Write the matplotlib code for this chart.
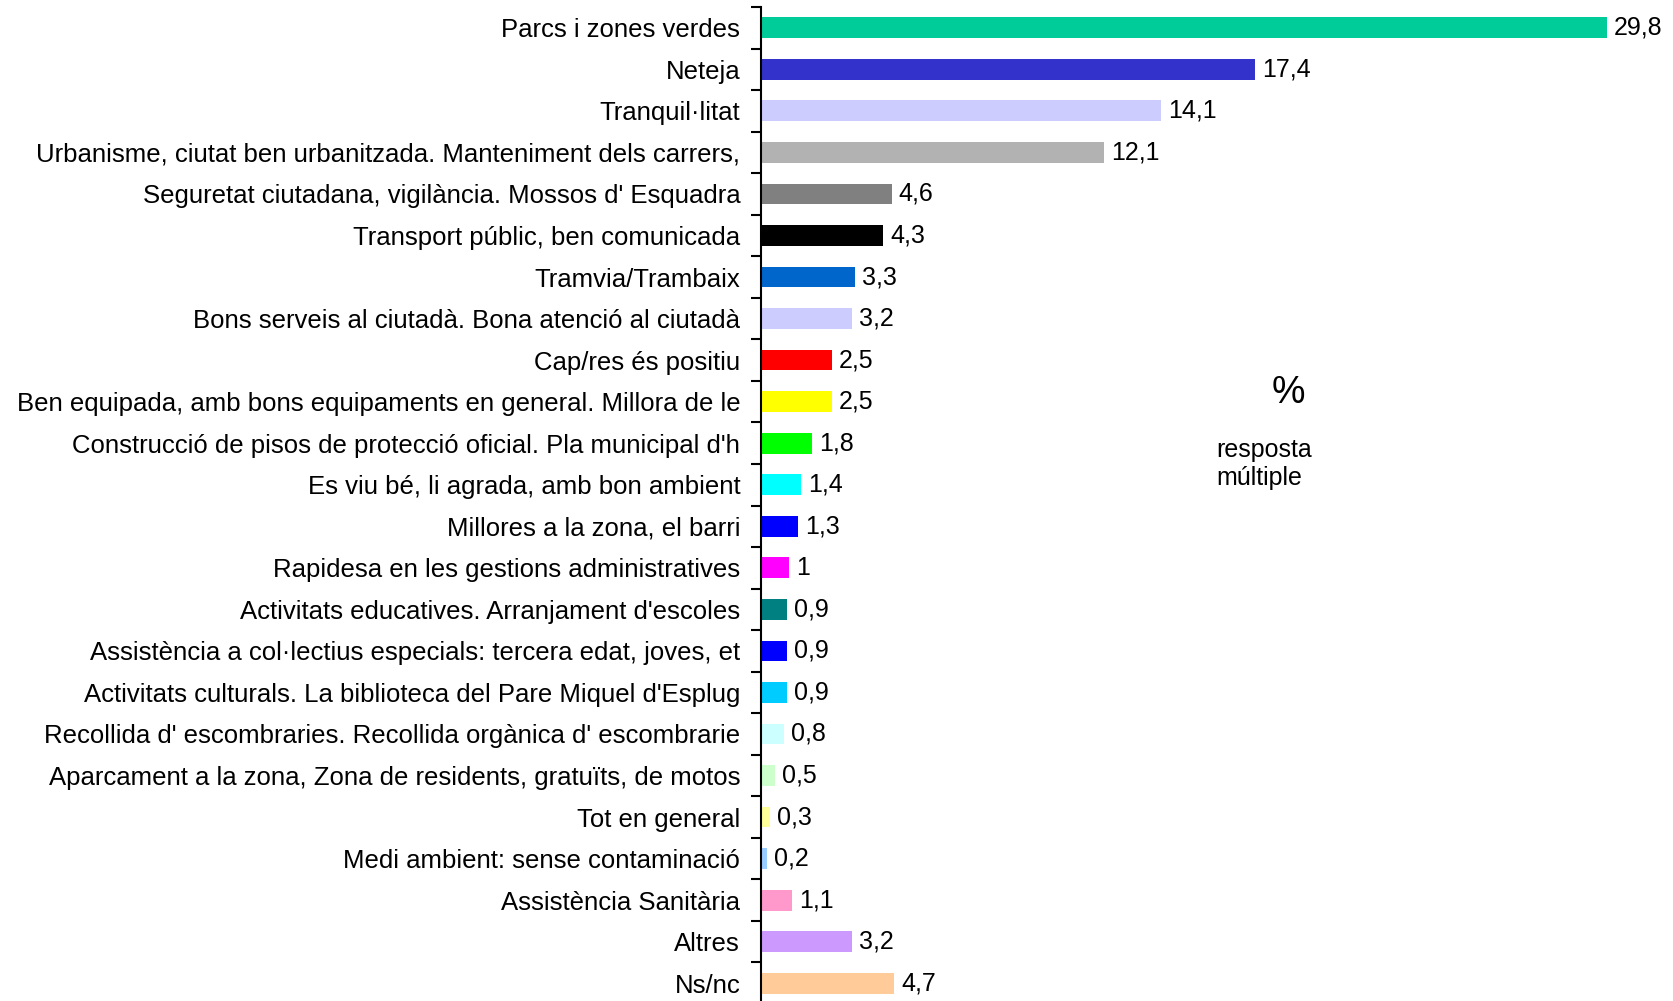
import matplotlib
matplotlib.use('Agg')
import matplotlib.pyplot as plt
import numpy as np

plt.rcParams['font.family'] = ['Liberation Sans', 'DejaVu Sans']

# ── Data ──────────────────────────────────────────────────────────────────────
categories = [
    'Parcs i zones verdes',
    'Neteja',
    'Tranquil·litat',
    'Urbanisme, ciutat ben urbanitzada. Manteniment dels carrers,',
    "Seguretat ciutadana, vigilància. Mossos d' Esquadra",
    'Transport públic, ben comunicada',
    'Tramvia/Trambaix',
    'Bons serveis al ciutadà. Bona atenció al ciutadà',
    'Cap/res és positiu',
    'Ben equipada, amb bons equipaments en general. Millora de le',
    "Construcció de pisos de protecció oficial. Pla municipal d'h",
    'Es viu bé, li agrada, amb bon ambient',
    'Millores a la zona, el barri',
    'Rapidesa en les gestions administratives',
    "Activitats educatives. Arranjament d'escoles",
    'Assistència a col·lectius especials: tercera edat, joves, et',
    "Activitats culturals. La biblioteca del Pare Miquel d'Esplug",
    "Recollida d' escombraries. Recollida orgànica d' escombrarie",
    'Aparcament a la zona, Zona de residents, gratuïts, de motos',
    'Tot en general',
    'Medi ambient: sense contaminació',
    'Assistència Sanitària',
    'Altres',
    'Ns/nc',
]
values = [29.8, 17.4, 14.1, 12.1, 4.6, 4.3, 3.3, 3.2, 2.5, 2.5, 1.8, 1.4,
          1.3, 1.0, 0.9, 0.9, 0.9, 0.8, 0.5, 0.3, 0.2, 1.1, 3.2, 4.7]
colors = ['#00CC99', '#3333CC', '#CCCCFF', '#B2B2B2', '#808080', '#000000',
          '#0066CC', '#CCCCFF', '#FF0000', '#FFFF00', '#00FF00', '#00FFFF',
          '#0000FF', '#FF00FF', '#008080', '#0000FF', '#00CCFF', '#CCFFFF',
          '#CCFFCC', '#FFFF99', '#99CCFF', '#FF99CC', '#CC99FF', '#FFCC99']


def fmt(v):
    s = f'{v:.1f}'.rstrip('0').rstrip('.')
    return s.replace('.', ',')


# ── Figure ────────────────────────────────────────────────────────────────────
fig = plt.figure(figsize=(16.74, 10.01), dpi=100)
ax = fig.add_axes([0.4546, -0.003, 0.545, 0.996])

y = np.arange(len(categories))
ax.barh(y, values, height=0.5, color=colors, edgecolor='none')

for yi, v in zip(y, values):
    ax.text(v + 0.25, yi, fmt(v), va='center', ha='left', fontsize=18)

ax.set_ylim(len(categories) - 0.5, -0.5)
ax.set_xlim(0, 32.15)

ax.set_yticks(y)
ax.set_yticklabels(categories, fontsize=18.5)
ax.set_yticks(np.arange(len(categories) + 1) - 0.5, minor=True)
ax.tick_params(axis='y', which='major', length=0, pad=15)
ax.tick_params(axis='y', which='minor', length=7, width=1.5, direction='out')
ax.set_xticks([])

for spine in ('top', 'right', 'bottom'):
    ax.spines[spine].set_visible(False)
ax.spines['left'].set_linewidth(1.5)

# annotation
ax.text(18.6, 8.8, '%', fontsize=27, ha='center', va='center')
ax.text(16.05, 10.5, 'resposta\nmúltiple', fontsize=18, ha='left', va='center',
        linespacing=1.25)

fig.savefig('out.png', dpi=100, facecolor='white')
